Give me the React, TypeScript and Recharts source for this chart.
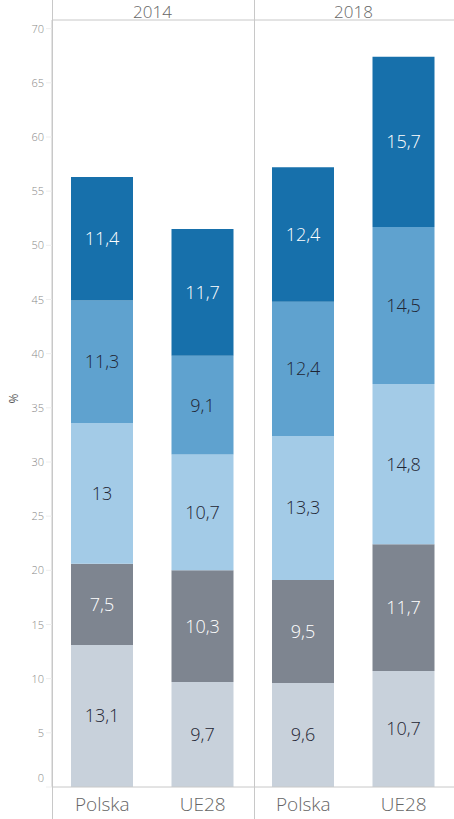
import React from "react";
import { BarChart, Bar, XAxis, YAxis, LabelList } from "recharts";

const categories = ["Polska", "UE28", "Polska", "UE28"];
const years = ["2014", "2014", "2018", "2018"];
const s1 = [13.1, 9.7, 9.6, 10.7];
const s2 = [7.5, 10.3, 9.5, 11.7];
const s3 = [13, 10.7, 13.3, 14.8];
const s4 = [11.3, 9.1, 12.4, 14.5];
const s5 = [11.4, 11.7, 12.4, 15.7];
const yTicks = [0, 5, 10, 15, 20, 25, 30, 35, 40, 45, 50, 55, 60, 65, 70];

const data = categories.map((c, i) => ({
  key: `${c} ${years[i]}`,
  name: c,
  year: years[i],
  s1: s1[i],
  s2: s2[i],
  s3: s3[i],
  s4: s4[i],
  s5: s5[i],
}));

const series = [
  { key: "s1", color: "#c8d1db", text: "#1f2533" },
  { key: "s2", color: "#7e8590", text: "#ffffff" },
  { key: "s3", color: "#a3cbe7", text: "#1f2533" },
  { key: "s4", color: "#5fa2cf", text: "#1f2533" },
  { key: "s5", color: "#1770ab", text: "#ffffff" },
];

const FONT = "'Open Sans', Lato, sans-serif";
const fmt = (v: any) => String(v).replace(".", ",");

const YTick = (props: any) => {
  const { x, y, payload } = props;
  const dy = payload.value === 0 ? -9 : 0;
  return (
    <text x={x} y={y + dy} dy={4} textAnchor="end" fill="#888" fontSize={11} fontWeight={300} fontFamily={FONT}>
      {payload.value}
    </text>
  );
};

const YearTick = (props: any) => {
  const { x, payload, index } = props;
  if (index % 2 !== 0) return null;
  const half = 402 / 8;
  return (
    <text x={x + half} y={18} textAnchor="middle" fill="#666" fontSize={17} fontWeight={300} fontFamily={FONT}>
      {String(payload.value).split(" ")[1]}
    </text>
  );
};

const BottomTick = (props: any) => {
  const { x, payload } = props;
  return (
    <text x={x} y={811} textAnchor="middle" fill="#666" fontSize={19} fontWeight={300} fontFamily={FONT}>
      {String(payload.value).split(" ")[0]}
    </text>
  );
};

export default function App() {
  return (
    <div style={{ position: "absolute", left: 0, top: 0, width: 454, height: 819, background: "#fff" }}>
      <BarChart
        width={454}
        height={819}
        data={data}
        margin={{ top: 0, right: 0, bottom: 0, left: 0 }}
        barSize={62}
      >
        <XAxis
          dataKey="key"
          height={32}
          axisLine={{ stroke: "#c8c8c8" }}
          tickLine={false}
          tick={<BottomTick />}
          interval={0}
        />
        <XAxis
          xAxisId="top"
          dataKey="key"
          orientation="top"
          height={20}
          axisLine={{ stroke: "#c8c8c8" }}
          tickLine={false}
          tick={<YearTick />}
          interval={0}
        />
        <YAxis
          width={52}
          domain={[0, 70.8]}
          ticks={yTicks}
          interval={0}
          axisLine={{ stroke: "#c8c8c8" }}
          tickLine={{ stroke: "#eee" }}
          tickSize={6}
          tick={<YTick />}
          allowDataOverflow
          label={{ value: "%", angle: -90, position: "insideLeft", offset: 14, fill: "#555", fontSize: 12, fontFamily: FONT }}
        />
        {series.map((s) => (
          <Bar key={s.key} dataKey={s.key} stackId="a" fill={s.color} isAnimationActive={false}>
            <LabelList
              dataKey={s.key}
              position="center"
              formatter={fmt}
              fill={s.text}
              fontSize={18}
              fontWeight={300}
              fontFamily={FONT}
            />
          </Bar>
        ))}
      </BarChart>
      <div style={{ position: "absolute", left: 52, top: 0, width: 1, height: 819, background: "#c8c8c8" }} />
      <div style={{ position: "absolute", left: 254, top: 0, width: 1, height: 819, background: "#c8c8c8" }} />
    </div>
  );
}
